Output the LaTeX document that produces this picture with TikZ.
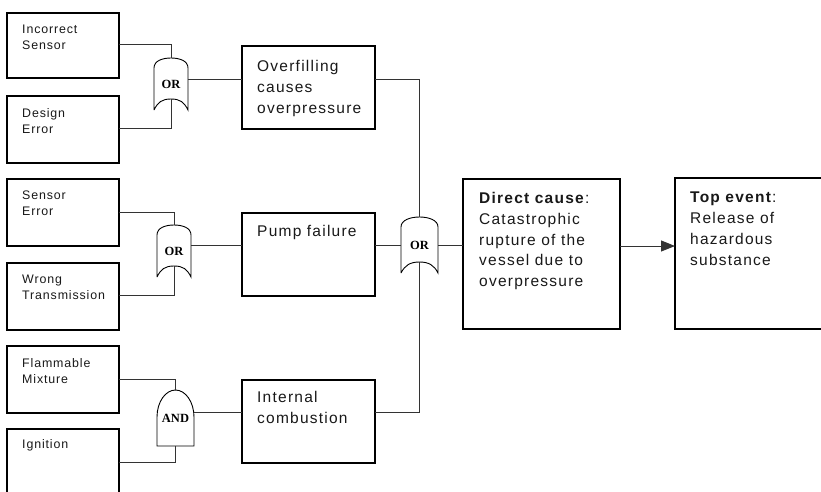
\documentclass[tikz,border=0pt]{standalone}
\usepackage{fontspec}
\setmainfont{Liberation Sans}
\newfontfamily\gatefont{Liberation Serif}
\usetikzlibrary{calc,arrows.meta}

\tikzset{
  evbox/.style={draw=black, line width=1.7pt, anchor=north west, inner sep=0pt, outer sep=0pt},
  smalltxt/.style={anchor=north west, inner sep=0pt, align=left, text=black!90,
    font=\fontsize{12.4}{16}\selectfont\addfontfeature{LetterSpace=7}},
  bigtxt/.style={anchor=north west, inner sep=0pt, align=left, text=black!90,
    font=\fontsize{15.5}{20.8}\selectfont\addfontfeature{LetterSpace=8}},
  gatebox/.style={draw=none, inner sep=0pt, outer sep=0pt,
    font=\gatefont\bfseries\fontsize{12.5}{13}\selectfont},
  gateline/.style={draw=black, line width=0.9pt},
  conn/.style={draw=black!80, line width=1pt},
  arr/.style={conn, -{Triangle[length=14pt,width=11pt]}},
}

\newcommand\orshape[1]{%
  \draw[gateline] (#1.south west) -- ($(#1.north west)+(0,10)$)
    .. controls ($(#1.north west)+(0,3)$) and ($(#1.north)+(-9,0)$) .. (#1.north)
    .. controls ($(#1.north)+(9,0)$) and ($(#1.north east)+(0,3)$) .. ($(#1.north east)+(0,10)$)
    -- (#1.south east)
    .. controls ($(#1.south east)+(-4,-8)$) and ($(#1.south)+(9,-11)$) .. ($(#1.south)+(0,-11)$)
    .. controls ($(#1.south)+(-9,-11)$) and ($(#1.south west)+(4,-8)$) .. (#1.south west);}

\newcommand\andshape[1]{%
  \draw[gateline] (#1.south west) -- ($(#1.north west)+(0,27)$)
    .. controls ($(#1.north west)+(0,12)$) and ($(#1.north)+(-10,0)$) .. (#1.north)
    .. controls ($(#1.north)+(10,0)$) and ($(#1.north east)+(0,12)$) .. ($(#1.north east)+(0,27)$)
    -- (#1.south east) -- cycle;}

\begin{document}
\begin{tikzpicture}[x=1pt, y=-1pt]
  \useasboundingbox (0,0) rectangle (821,491);
  \clip (0,0) rectangle (821,491);
  \fill[white] (0,0) rectangle (821,491);

  % basic events
  \node[evbox, minimum width=112pt, minimum height=65pt] (is) at (7,13) {};
  \node[evbox, minimum width=112pt, minimum height=67pt] (de) at (7,96) {};
  \node[evbox, minimum width=112pt, minimum height=67pt] (se) at (7,179) {};
  \node[evbox, minimum width=112pt, minimum height=67pt] (wt) at (7,263) {};
  \node[evbox, minimum width=112pt, minimum height=67pt] (fm) at (7,346) {};
  \node[evbox, minimum width=112pt, minimum height=67pt] (ig) at (7,429) {};

  \node[smalltxt] (ist) at ($(is.north west)+(15,12)$) {Incorrect\\Sensor};
  \node[smalltxt] (det) at ($(de.north west)+(15,12)$) {Design\\Error};
  \node[smalltxt] (set) at ($(se.north west)+(15,12)$) {Sensor\\Error};
  \node[smalltxt] (wtt) at ($(wt.north west)+(15,12)$) {Wrong\\Transmission};
  \node[smalltxt] (fmt) at ($(fm.north west)+(15,12)$) {Flammable\\Mixture};
  \node[smalltxt] (igt) at ($(ig.north west)+(15,10)$) {Ignition};

  % intermediate events
  \node[evbox, minimum width=133pt, minimum height=83pt] (of) at (242,46) {};
  \node[evbox, minimum width=133pt, minimum height=83pt] (pf) at (242,213) {};
  \node[evbox, minimum width=133pt, minimum height=83pt] (ic) at (242,380) {};

  \node[bigtxt] (oft) at ($(of.north west)+(15,14)$) {Overfilling\\causes\\overpressure};
  \node[bigtxt] (pft) at ($(pf.north west)+(15,12)$) {Pump failure};
  \node[bigtxt] (ict) at ($(ic.north west)+(15,11)$) {Internal\\combustion};

  % direct cause and top event
  \node[evbox, minimum width=157pt, minimum height=150pt] (dc) at (463,179) {};
  \node[evbox, minimum width=170pt, minimum height=151pt] (te) at (675,178) {};

  \node[bigtxt] (dct) at ($(dc.north west)+(16,13)$)
    {\textbf{Direct cause}:\\Catastrophic\\rupture of the\\vessel due to\\overpressure};
  \node[bigtxt] (tet) at ($(te.north west)+(15,14)$)
    {\textbf{Top event}:\\Release of\\hazardous\\substance};

  % gates
  \node[gatebox, minimum width=34pt, minimum height=52pt] (g1) at (171,84) {OR};
  \node[gatebox, minimum width=34pt, minimum height=52pt] (g2) at (174,251) {OR};
  \node[gatebox, minimum width=37pt, minimum height=56pt] (g3) at (175.5,418) {AND};
  \node[gatebox, minimum width=37pt, minimum height=56pt] (g4) at (419.5,245) {OR};

  \orshape{g1}
  \orshape{g2}
  \andshape{g3}
  \orshape{g4}

  % connectors row 1
  \draw[conn] ($(is.north east)+(0,31)$) -| (g1.north);
  \draw[conn] ($(de.north east)+(0,32)$) -| ($(g1.south)+(0,-11)$);
  \coordinate (g1o) at ($(g1.east)+(0,-5)$);
  \draw[conn] (g1o) -- (g1o -| of.west);

  % connectors row 2
  \draw[conn] ($(se.north east)+(0,33)$) -| (g2.north);
  \draw[conn] ($(wt.north east)+(0,32)$) -| ($(g2.south)+(0,-11)$);
  \coordinate (g2o) at ($(g2.east)+(0,-6)$);
  \draw[conn] (g2o) -- (g2o -| pf.west);

  % connectors row 3
  \draw[conn] ($(fm.north east)+(0,33)$) -| (g3.north);
  \draw[conn] ($(ig.north east)+(0,33)$) -| (g3.south);
  \coordinate (g3o) at ($(g3.east)+(0,-6)$);
  \draw[conn] (g3o) -- (g3o -| ic.west);

  % connectors to main gate
  \draw[conn] ($(of.north east)+(0,33)$) -| (g4.north);
  \draw[conn] (g4.west -| pf.east) -- (g4.west);
  \draw[conn] ($(ic.north east)+(0,32)$) -| ($(g4.south)+(0,-11)$);
  \draw[conn] (g4.east) -- (g4.east -| dc.west);

  % arrow to top event
  \coordinate (ao) at ($(dc.north east)+(0,67)$);
  \draw[arr] (ao) -- (ao -| te.west);
\end{tikzpicture}
\end{document}
